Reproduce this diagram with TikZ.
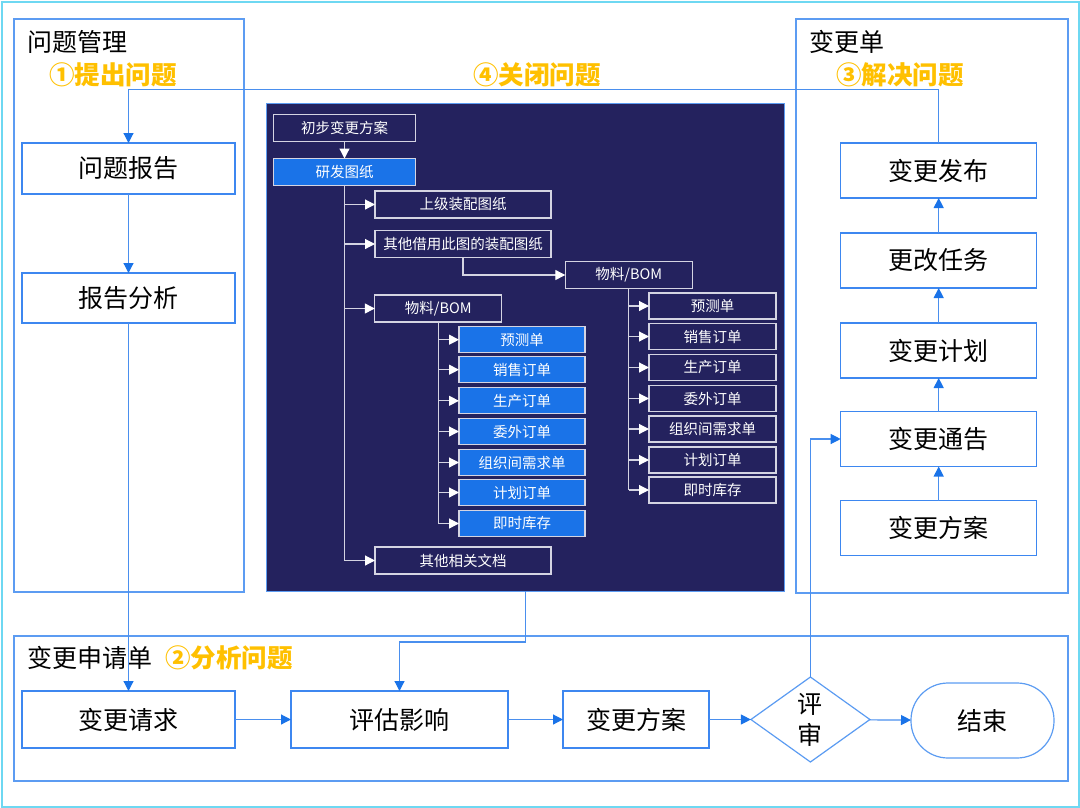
\documentclass[tikz,border=0pt]{standalone}
\usepackage{fontspec}
\setmainfont{Noto Sans CJK SC}
\usetikzlibrary{arrows.meta,shapes.geometric}
\definecolor{lineblue}{HTML}{4A8FEE}
\definecolor{tipblue}{HTML}{1A73E8}
\definecolor{boxblue}{HTML}{3D87F0}
\definecolor{grpblue}{HTML}{5C9CF2}
\definecolor{framecyan}{HTML}{6ED8F2}
\definecolor{navy}{HTML}{24225E}
\definecolor{fillblue}{HTML}{1A73E8}
\definecolor{dline}{HTML}{D4D4E2}
\definecolor{orange}{HTML}{FFC000}
\begin{document}
\begin{tikzpicture}[x=1pt,y=-1pt,
  grp/.style={draw=grpblue, line width=1.3pt, minimum width=#1, anchor=north west, inner sep=0pt, outer sep=0pt},
  title/.style={anchor=west, inner sep=0pt, font=\fontsize{25}{30}\selectfont},
  stage/.style={anchor=west, inner sep=0pt, text=orange, font=\fontsize{25.5}{30}\selectfont\bfseries},
  mbox/.style={draw=boxblue, line width=1.3pt, fill=white, inner sep=0pt, outer sep=0pt, font=\fontsize{25}{30}\selectfont},
  dbox/.style={draw=dline, line width=1.1pt, text=white, inner sep=0pt, outer sep=0pt, font=\fontsize{14.5}{17}\selectfont},
  fbox/.style={dbox, fill=fillblue},
  arr/.style={draw=lineblue, line width=1.2pt, -{Triangle[length=10pt,width=10pt,color=tipblue]}},
  darr/.style={draw=dline, line width=1.2pt, -{Triangle[length=10pt,width=10pt,color=white]}},
  dline/.style={draw=dline, line width=1.2pt}
]
\useasboundingbox (0,0) rectangle (1080,807);
\node[draw=framecyan, line width=1.5pt, minimum width=1077, minimum height=805, anchor=north west, inner sep=0pt] (frame) at (1,1) {};

% groups
\node[grp=230, minimum height=573] (gq) at (14,19) {};
\node[grp=272, minimum height=574] (gc) at (796,19) {};
\node[grp=1054, minimum height=145] (ga) at (14,636) {};
\node[draw=grpblue, line width=1.3pt, fill=navy, minimum width=518, minimum height=488, anchor=north west, inner sep=0pt] (panel) at (266,103) {};

% titles
\node[title] (tq) at (27,42) {问题管理};
\node[stage] (st1) at (49,75) {①提出问题};
\node[title] (tc) at (809,42) {变更单};
\node[stage] (st3) at (836,75) {③解决问题};
\node[stage] (st4) at (473,75) {④关闭问题};
\node[title] (ta) at (27,658) {变更申请单};
\node[stage] (st2) at (165,658) {②分析问题};

% left column
\node[mbox, minimum width=213, minimum height=51] (q1) at (128.5,168.5) {问题报告};
\node[mbox, minimum width=213, minimum height=50] (q2) at (128.5,298) {报告分析};

% right column
\node[mbox, minimum width=196, minimum height=55] (s1) at (938.7,170.5) {变更发布};
\node[mbox, minimum width=196, minimum height=55] (s2) at (938.7,260.5) {更改任务};
\node[mbox, minimum width=196, minimum height=55] (s3) at (938.7,350.5) {变更计划};
\node[mbox, minimum width=196, minimum height=55] (s4) at (938.7,439) {变更通告};
\node[mbox, minimum width=196, minimum height=55] (s5) at (938.7,528) {变更方案};

% bottom row
\node[mbox, minimum width=213, minimum height=57] (r1) at (128.5,719.5) {变更请求};
\node[mbox, minimum width=217, minimum height=57] (r2) at (399.5,719.5) {评估影响};
\node[mbox, minimum width=146, minimum height=57] (r3) at (636,719.5) {变更方案};
\node[shape=diamond, draw=grpblue, line width=1.2pt, fill=white, minimum width=119, minimum height=85, inner sep=0pt, outer sep=0pt, align=center, font=\fontsize{25}{31}\selectfont] (dm) at (810.4,719.5) {评\\审};
\node[draw=grpblue, line width=1.2pt, fill=white, rounded corners=37pt, minimum width=143, minimum height=75, inner sep=0pt, outer sep=0pt, font=\fontsize{25}{30}\selectfont] (en) at (982.5,720.5) {结束};

% dark panel content
\node[dbox, minimum width=142, minimum height=27] (a0) at (344.5,128.3) {初步变更方案};
\node[fbox, minimum width=142, minimum height=27] (a1) at (344.5,172) {研发图纸};
\node[dbox, minimum width=176, minimum height=27] (b1) at (463,204.5) {上级装配图纸};
\node[dbox, minimum width=176, minimum height=27] (b2) at (463,244) {其他借用此图的装配图纸};
\node[dbox, minimum width=127, minimum height=27] (b3) at (438.3,308.5) {物料/BOM};
\node[dbox, minimum width=176, minimum height=27] (b4) at (463,560.5) {其他相关文档};
\node[dbox, minimum width=127, minimum height=27] (c0) at (628.8,275) {物料/BOM};

\node[fbox, minimum width=126, minimum height=26] (d1) at (522,339.7) {预测单};
\node[fbox, minimum width=126, minimum height=26] (d2) at (522,369.7) {销售订单};
\node[fbox, minimum width=126, minimum height=26] (d3) at (522,400.8) {生产订单};
\node[fbox, minimum width=126, minimum height=26] (d4) at (522,431.5) {委外订单};
\node[fbox, minimum width=126, minimum height=26] (d5) at (522,462.5) {组织间需求单};
\node[fbox, minimum width=126, minimum height=26] (d6) at (522,492.5) {计划订单};
\node[fbox, minimum width=126, minimum height=26] (d7) at (522,523.5) {即时库存};

\node[dbox, minimum width=127, minimum height=26] (e1) at (712.5,306) {预测单};
\node[dbox, minimum width=127, minimum height=26] (e2) at (712.5,336.5) {销售订单};
\node[dbox, minimum width=127, minimum height=26] (e3) at (712.5,367.5) {生产订单};
\node[dbox, minimum width=127, minimum height=26] (e4) at (712.5,398.5) {委外订单};
\node[dbox, minimum width=127, minimum height=26] (e5) at (712.5,429) {组织间需求单};
\node[dbox, minimum width=127, minimum height=26] (e6) at (712.5,460) {计划订单};
\node[dbox, minimum width=127, minimum height=26] (e7) at (712.5,490) {即时库存};

% dark panel connectors
\draw[darr] (a0) -- (a1);
\draw[dline] (a1.south) -- (a1.south |- b4);
\foreach \t in {b1,b2,b3,b4} \draw[darr] (a1.south |- \t) -- (\t.west);
\draw[darr] (b2.south) |- (c0.west);
\draw[dline] (b3.south) -- (b3.south |- d7);
\foreach \t in {d1,d2,d3,d4,d5,d6,d7} \draw[darr] (b3.south |- \t) -- (\t.west);
\draw[dline] (c0.south) -- (c0.south |- e7);
\foreach \t in {e1,e2,e3,e4,e5,e6,e7} \draw[darr] (c0.south |- \t) -- (\t.west);

% main connectors
\coordinate (topy) at (0,89.3);
\coordinate (pbot) at (525.5,591);
\coordinate (pmid) at (525.5,642);
\draw[arr] (q1) -- (q2);
\draw[arr] (q2.south) -- (r1.north);
\draw[arr] (s1.north) -- (s1.north |- topy) -| (q1.north);
\draw[arr] (s5) -- (s4);
\draw[arr] (s4) -- (s3);
\draw[arr] (s3) -- (s2);
\draw[arr] (s2) -- (s1);
\draw[arr] (pbot) -- (pmid) -| (r2.north);
\draw[arr] (r1) -- (r2);
\draw[arr] (r2) -- (r3);
\draw[arr] (r3) -- (dm);
\draw[arr] (dm) -- (en);
\draw[arr] (dm.north) |- (s4.west);
\end{tikzpicture}
\end{document}
